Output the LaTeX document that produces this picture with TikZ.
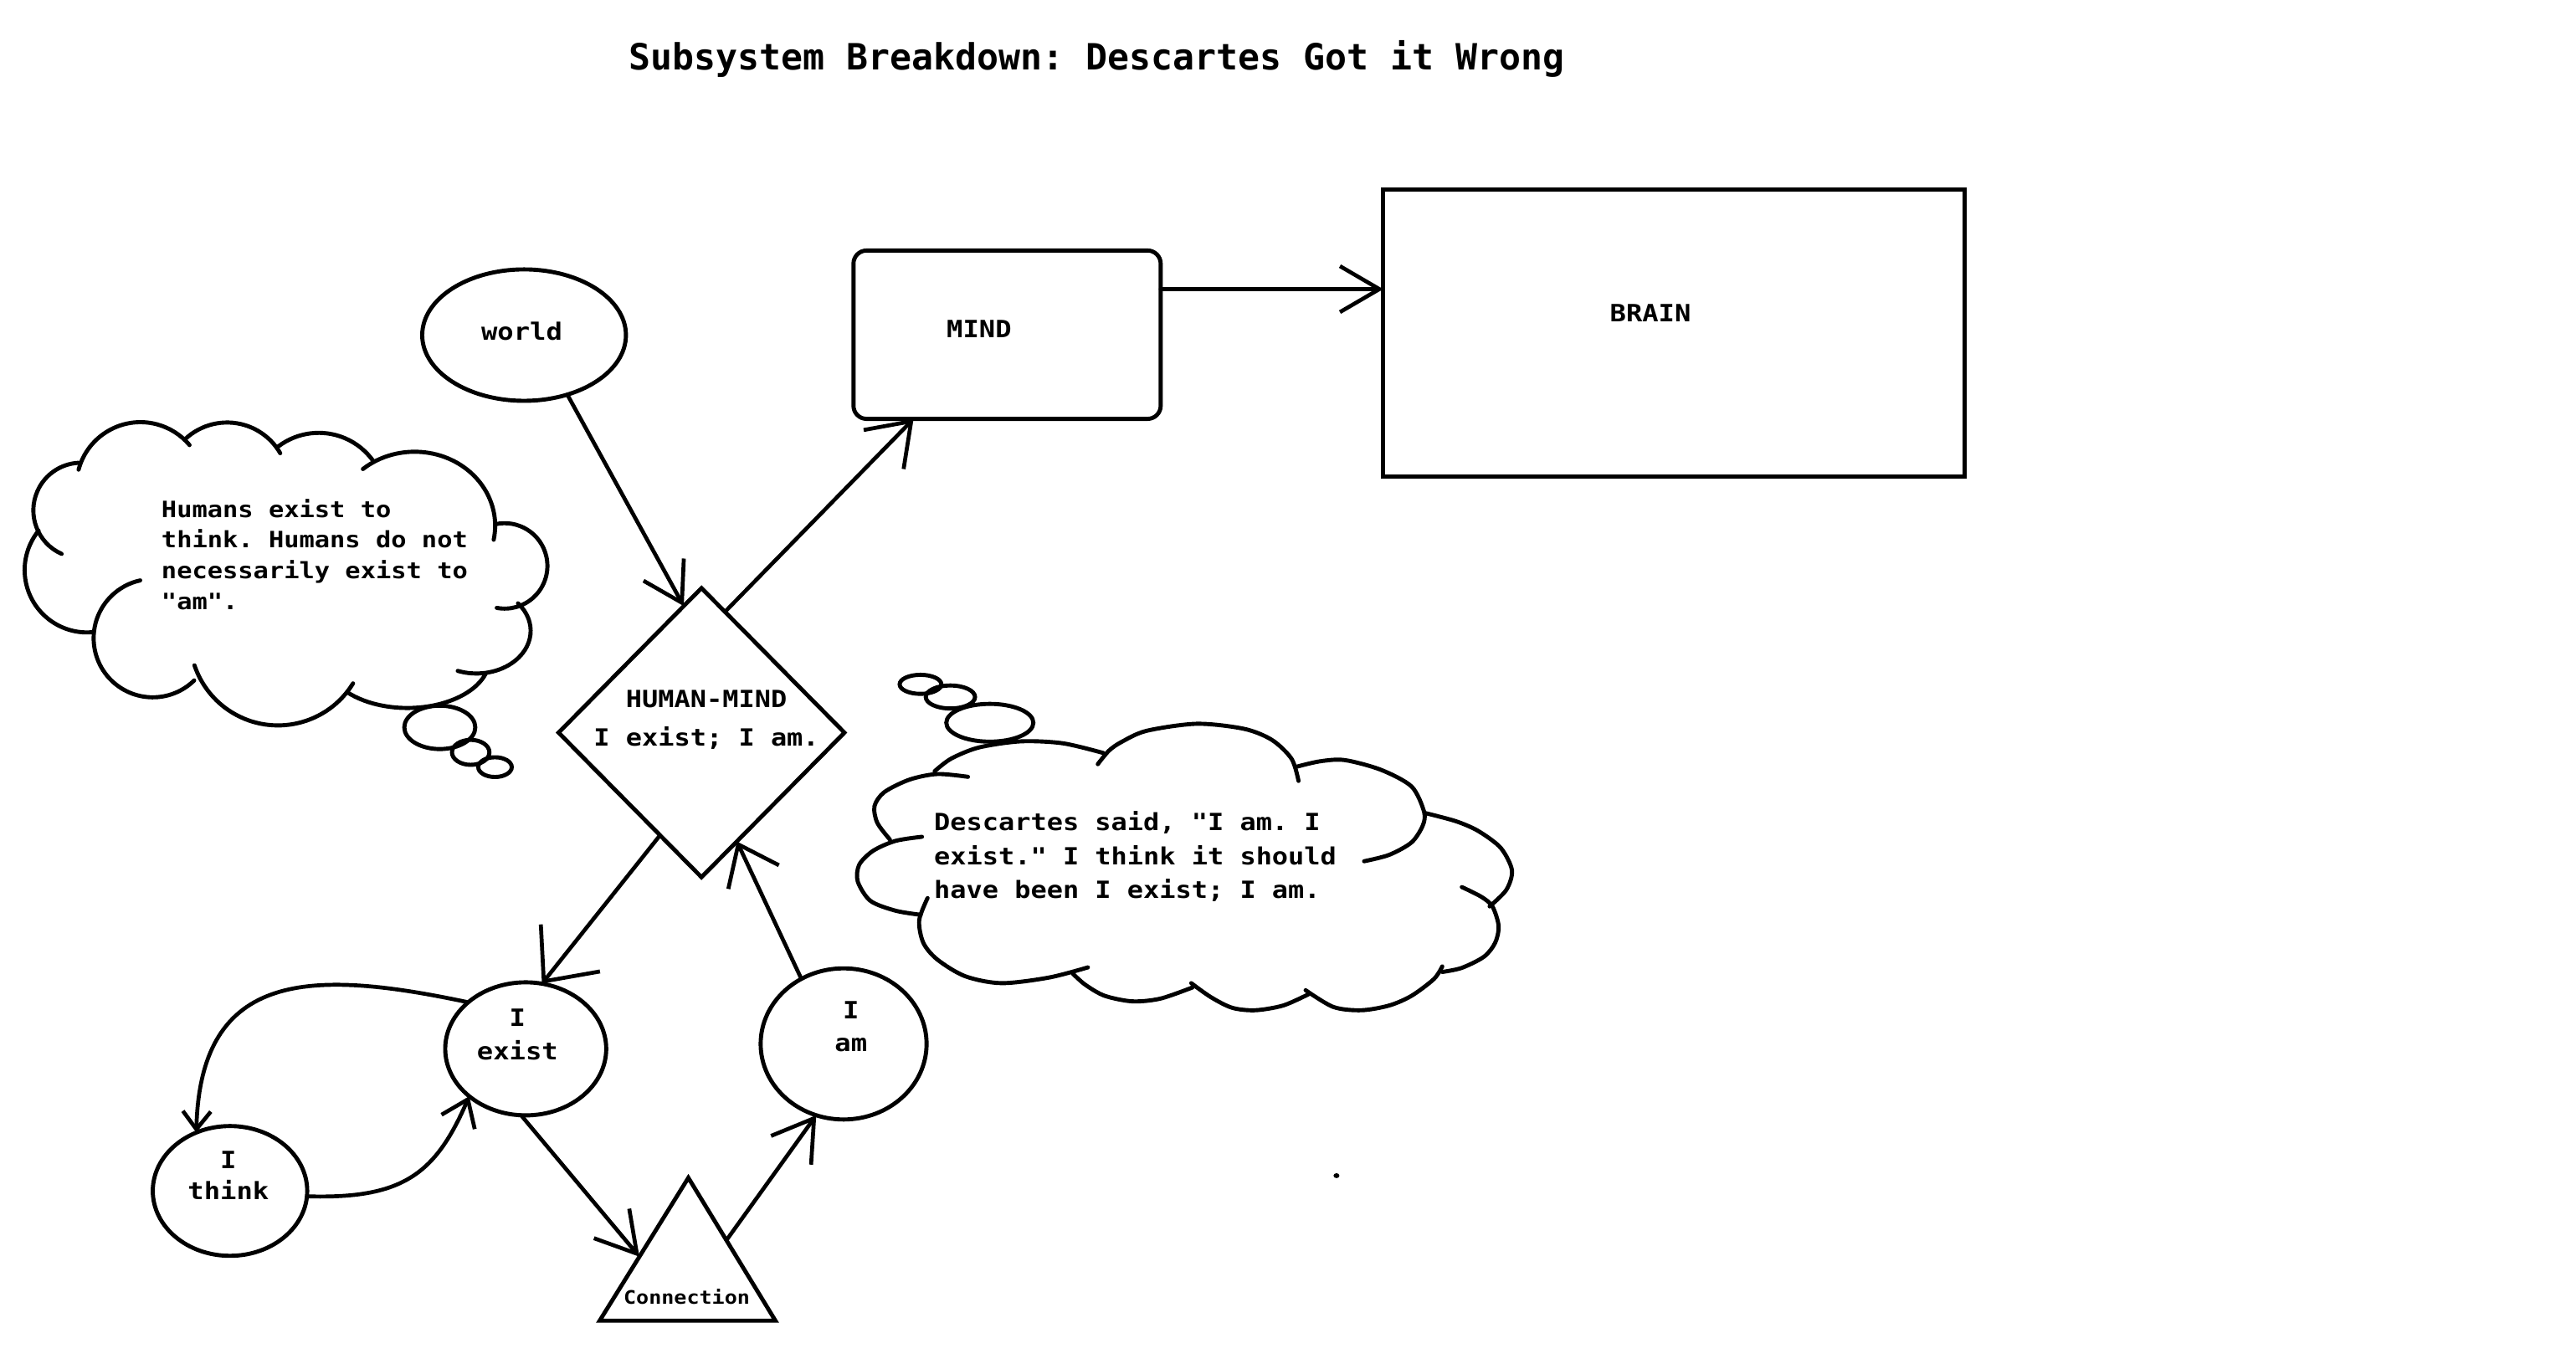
\documentclass[tikz,border=0pt]{standalone}
\usepackage{fontspec}
\usetikzlibrary{shapes.geometric,arrows.meta,calc}
\newfontfamily\djt{DejaVu Sans Mono Bold}
\newfontfamily\djb{DejaVu Sans Mono Bold}[FakeStretch=1.13]
\frenchspacing
\newcommand{\cpuff}[4]{\draw[cloudline] ([shift={(#3:#2)}]#1) arc[start angle=#3,end angle=#4,radius=#2];}
\tikzset{
  every node/.style={inner sep=0pt,outer sep=0pt},
  shapeline/.style={draw,line width=2.5pt},
  oval/.style 2 args={shapeline,ellipse,minimum width=#1,minimum height=#2},
  lab/.style={font=\djb\fontsize{14.5}{20.4}\selectfont,align=center,anchor=base},
  arr/.style 2 args={line width=2.4pt,line cap=round,-{Straight Barb[length=#1pt,width=#2pt]}},
  cloudline/.style={line width=2.5pt,line cap=round},
}
\begin{document}
\begin{tikzpicture}[x=1pt,y=-1pt]
\useasboundingbox (0,0) rectangle (1568,833.4);
% title
\node[font=\djt\fontsize{22}{26}\selectfont\frenchspacing,anchor=base] (title) at (667.5,42.4) {Subsystem Breakdown: Descartes Got it Wrong};
% main shapes
\node[oval={124pt}{80pt}] (world) at (319,204) {};
\node[lab] (worldtxt) at (317.6,207.2) {world};
\node[shapeline,rectangle,rounded corners=8pt,minimum width=187pt,minimum height=102.5pt] (mind) at (613,203.75) {};
\node[lab] (mindtxt) at (596,205.5) {MIND};
\node[shapeline,rectangle,minimum width=354pt,minimum height=174.4pt] (brain) at (1019,202.8) {};
\node[lab] (braintxt) at (1004.6,196.1) {BRAIN};
\node[shapeline,diamond,minimum width=174pt,minimum height=176pt] (hm) at (427,446) {};
\node[lab,font=\djb\fontsize{14.4}{23.5}\selectfont\frenchspacing] (hmtxt) at (430,454) {HUMAN-MIND\\I exist; I am.};
\node[oval={98pt}{81pt}] (iexist) at (320,638.5) {};
\node[lab] (iexisttxt) at (315,645.4) {I\\exist};
\node[oval={94pt}{79pt}] (ithink) at (140,725) {};
\node[lab,font=\djb\fontsize{14.5}{18.5}\selectfont] (ithinktxt) at (139,730) {I\\think};
\node[oval={101pt}{92pt}] (iam) at (513.5,635.5) {};
\node[lab,font=\djb\fontsize{14.5}{20}\selectfont] (iamtxt) at (518,640) {I\\am};
% triangle
\coordinate (tapex) at (419,717);
\coordinate (tbl) at (365,804);
\coordinate (tbr) at (472,804);
\draw[shapeline] (tapex) -- (tbl) -- (tbr) -- cycle;
\coordinate (tleft) at ($(tapex)!0.552!(tbl)$);
\coordinate (tright) at ($(tapex)!0.437!(tbr)$);
\node[lab,font=\djb\fontsize{11.3}{14}\selectfont] (conntxt) at (418,794) {Connection};
% connectors
\draw[arr={24}{28}] ([yshift=27.75pt]mind.east) -- ([yshift=26.8pt]brain.west);
\draw[arr={23}{28}] (world.-54) -- (hm.98);
\draw[arr={24}{34}] (hm.79) -- (mind.222);
\draw[arr={26}{46}] (hm.248) -- (iexist.76);
\draw[arr={11}{17}] (iexist.141) .. controls (190,590) and (122,590) .. (ithink.120);
\draw[arr={15}{22}] (ithink.-4) .. controls (245,730) and (265,715) .. (iexist.220);
\draw[arr={24}{28}] (iexist.-94) -- (tleft);
\draw[arr={24}{30}] (tright) -- (iam.249);
\draw[arr={22}{34}] (iam.123) -- (hm.-72);
% left cloud
\cpuff{85.5,296}{39}{195}{320}
\cpuff{138.25,294.5}{37.3}{226.6}{330.1}
\cpuff{194,304.2}{40.7}{233}{325}
\draw[cloudline] ([shift={(230:49 and 45)}]252.4,320) arc[start angle=230,end angle=371,x radius=49,y radius=45];
\cpuff{307.2,344.5}{26}{257}{460.7}
\draw[cloudline] ([shift={(320:33 and 26)}]290,384) arc[start angle=320,end angle=470.2,x radius=33,y radius=26];
\draw[cloudline] ([shift={(17.5:50 and 30)}]248,401) arc[start angle=17.5,end angle=137,x radius=50,y radius=30];
\cpuff{169.2,388}{53.6}{31.5}{161.5}
\cpuff{93,388.5}{36}{45.6}{257.7}
\cpuff{53,347}{38}{84}{219}
\cpuff{49.3,310.7}{29}{114}{267}
\node[font=\djb\fontsize{13.7}{18.7}\selectfont\frenchspacing,align=left,anchor=base west] (lctext) at (98.3,371) {Humans exist to\\think. Humans do not\\necessarily exist to\\"am".};
\draw[cloudline] (267.7,442.8) ellipse [x radius=21.6,y radius=13.2];
\draw[cloudline] (286.5,458) ellipse [x radius=11.4,y radius=7.6];
\draw[cloudline] (301.3,467) ellipse [x radius=10.2,y radius=6];
% right cloud
\draw[cloudline] plot[smooth] coordinates {(568.9,469.5) (579,461.8) (596,455) (621.5,451.3) (647,452.5) (671.6,458.4)};
\draw[cloudline] plot[smooth] coordinates {(668.2,465.2) (675,457) (682.6,451.7) (697.9,444.9) (728.5,440.6) (757.3,443.7) (774.3,450.5) (786.2,462) (790.4,475.4)};
\draw[cloudline] plot[smooth] coordinates {(788.7,466.9) (803.2,463.5) (818.4,462.7) (840.5,468.6) (859.2,478.8) (866.8,494.1) (866,502.6) (859.2,512.8) (845.6,520.4) (830.3,524.3)};
\draw[cloudline] plot[smooth] coordinates {(867.7,495) (886.4,500) (900,506) (913.5,516.2) (920.3,529.8) (916.9,541.7) (906.7,551.8)};
\draw[cloudline] plot[smooth] coordinates {(889.8,540) (901.6,545.9) (908.4,551.8) (912.2,563.7) (910.1,573.9) (903.3,582.4) (889.8,589.2) (877.9,591.7)};
\draw[cloudline] plot[smooth] coordinates {(877.9,588.3) (872.8,596) (859.2,606.2) (845.6,612.1) (828.6,615) (811.6,613) (794.7,602.8)};
\draw[cloudline] plot[smooth] coordinates {(796.4,605.3) (781.1,612.1) (764.1,615) (750,613.5) (737,607) (725.1,598.5)};
\draw[cloudline] plot[smooth] coordinates {(725.9,601.1) (706.4,607.9) (689.4,609.6) (672.4,606.2) (660.5,599.4) (652.9,592.6)};
\draw[cloudline] plot[smooth] coordinates {(662.2,588.9) (638.5,595.1) (609.6,598.5) (587.5,594.3) (570.5,584.1) (562,573.9) (559.5,560.3) (564.6,546.7)};
\draw[cloudline] plot[smooth] coordinates {(560.4,556.9) (545.1,554.4) (529.8,548.4) (522.1,536.6) (523,526.4) (531.5,517.9) (545.1,511.9) (561.2,509.4)};
\draw[cloudline] plot[smooth] coordinates {(541.7,511.1) (534,500.9) (532.3,490.7) (538.3,482.2) (553.6,474.6) (570.5,471.2) (589.2,472.9)};
\node[font=\djb\fontsize{14.4}{20.7}\selectfont\frenchspacing,align=left,anchor=base west] (rctext) at (568.6,547.1) {Descartes said, "I am. I\\exist." I think it should\\have been I exist; I am.};
\draw[cloudline] (602.5,440) ellipse [x radius=26.5,y radius=11.5];
\draw[cloudline] (578.5,424.3) ellipse [x radius=15,y radius=7];
\draw[cloudline] (560.3,416.6) ellipse [x radius=12.7,y radius=5.8];
% stray dot
\fill (813.5,715.7) ellipse [x radius=1.8,y radius=1.5];
\end{tikzpicture}
\end{document}
